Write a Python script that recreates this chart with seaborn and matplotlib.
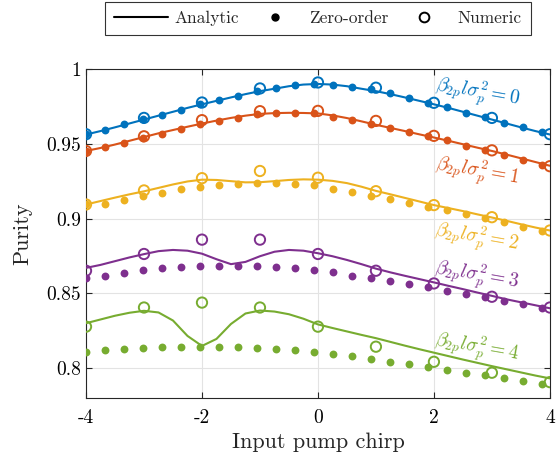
import numpy as np
import pandas as pd
import matplotlib
matplotlib.use("Agg")
import matplotlib.pyplot as plt
from matplotlib.lines import Line2D
import seaborn as sns

# ---------------- DATA ---------------- #
chirp_fine = np.arange(-4, 4.01, 0.25)      # analytic curve grid
chirp_zero = np.linspace(-4, 3.86, 25)      # zero-order points
chirp_num = np.arange(-4, 5, 1)             # numeric points

levels = ["0", "1", "2", "3", "4"]

analytic_0 = [0.9562, 0.9585, 0.961, 0.9636, 0.9662, 0.9688, 0.9714, 0.974, 0.9764, 0.9787, 0.981,
              0.9832, 0.9852, 0.9868, 0.9885, 0.9896, 0.990, 0.9896, 0.9885, 0.9868, 0.9852, 0.9832,
              0.981, 0.9787, 0.9764, 0.974, 0.9714, 0.9688, 0.9662, 0.9636, 0.961, 0.9585, 0.9562]
analytic_1 = [0.9452, 0.9472, 0.9495, 0.952, 0.9545, 0.957, 0.9592, 0.9614, 0.9635, 0.9655, 0.9673,
              0.9688, 0.970, 0.9705, 0.9707, 0.9706, 0.9703, 0.969, 0.9672, 0.965, 0.9627, 0.9606,
              0.9585, 0.9563, 0.9542, 0.952, 0.9497, 0.9474, 0.9452, 0.9428, 0.9403, 0.9378, 0.9353]
analytic_2 = [0.9094, 0.9117, 0.914, 0.9162, 0.9182, 0.9205, 0.9228, 0.9248, 0.926, 0.9258, 0.925,
              0.9242, 0.9243, 0.925, 0.9258, 0.9262, 0.926, 0.9252, 0.9237, 0.9213, 0.9185, 0.9162,
              0.9138, 0.9114, 0.909, 0.907, 0.905, 0.9028, 0.9007, 0.8985, 0.8962, 0.894, 0.892]
analytic_3 = [0.867, 0.869, 0.8715, 0.874, 0.8762, 0.8782, 0.879, 0.8785, 0.8765, 0.8728, 0.8695,
              0.871, 0.8748, 0.8778, 0.879, 0.8785, 0.8768, 0.8748, 0.8723, 0.8695, 0.8665, 0.864,
              0.8617, 0.8595, 0.8573, 0.855, 0.8528, 0.8505, 0.8483, 0.846, 0.844, 0.842, 0.840]
analytic_4 = [0.830, 0.8325, 0.835, 0.837, 0.8383, 0.8372, 0.8318, 0.8215, 0.8148, 0.8195, 0.8295,
              0.8365, 0.8385, 0.8378, 0.836, 0.833, 0.8292, 0.8268, 0.8245, 0.8222, 0.820, 0.8175,
              0.815, 0.8126, 0.8103, 0.808, 0.8057, 0.8035, 0.8013, 0.7992, 0.7971, 0.795, 0.7931]

zero_0 = [0.9564, 0.9595, 0.9629, 0.9664, 0.9693, 0.9727, 0.9763, 0.979, 0.982, 0.985, 0.987, 0.989, 0.990,
          0.9895, 0.988, 0.9863, 0.9837, 0.9803, 0.9776, 0.9743, 0.9709, 0.9676, 0.9642, 0.9609, 0.9577]
zero_1 = [0.9452, 0.9477, 0.9508, 0.9539, 0.9568, 0.9597, 0.9631, 0.9653, 0.9673, 0.9696, 0.9703, 0.9705, 0.9703,
          0.9682, 0.9662, 0.9631, 0.9606, 0.9579, 0.955, 0.9523, 0.9488, 0.9461, 0.9427, 0.9394, 0.936]
zero_2 = [0.9094, 0.9099, 0.9126, 0.915, 0.9172, 0.9195, 0.921, 0.9226, 0.9233, 0.9237, 0.9237, 0.9228, 0.9222,
          0.920, 0.9177, 0.9154, 0.9132, 0.9105, 0.908, 0.9058, 0.9031, 0.9005, 0.8975, 0.8942, 0.892]
zero_3 = [0.8602, 0.8617, 0.8638, 0.8653, 0.8667, 0.8676, 0.8683, 0.8685, 0.8685, 0.8683, 0.8673, 0.8667, 0.8656,
          0.864, 0.8617, 0.8602, 0.8579, 0.8562, 0.8539, 0.8517, 0.8495, 0.8472, 0.845, 0.8428, 0.8405]
zero_4 = [0.8107, 0.8121, 0.813, 0.8137, 0.8141, 0.8143, 0.8143, 0.8143, 0.8141, 0.8137, 0.813, 0.8121, 0.8107,
          0.8092, 0.8078, 0.806, 0.8042, 0.8025, 0.8009, 0.7987, 0.7969, 0.7951, 0.7935, 0.7913, 0.7895]

numeric_0 = [0.9564, 0.9673, 0.9776, 0.987, 0.991, 0.9875, 0.9774, 0.9673, 0.9564]
numeric_1 = [0.9452, 0.955, 0.9658, 0.9718, 0.972, 0.9653, 0.9553, 0.9456, 0.935]
numeric_2 = [0.9094, 0.9188, 0.927, 0.9318, 0.9273, 0.9183, 0.909, 0.9009, 0.892]
numeric_3 = [0.8651, 0.8763, 0.8859, 0.8859, 0.8763, 0.8651, 0.8566, 0.8477, 0.8405]
numeric_4 = [0.8277, 0.8405, 0.8438, 0.8405, 0.8277, 0.8143, 0.8042, 0.7969, 0.7906]

analytic = [analytic_0, analytic_1, analytic_2, analytic_3, analytic_4]
zero_order = [zero_0, zero_1, zero_2, zero_3, zero_4]
numeric = [numeric_0, numeric_1, numeric_2, numeric_3, numeric_4]

colors = ["#0072BD", "#D95319", "#EDB120", "#7E2F8E", "#77AC30"]

# label anchor (data coords)
label_x = [2.76, 2.74, 2.74, 2.74, 2.74]
label_y = [0.9839, 0.9315, 0.8872, 0.8617, 0.8134]

# ---------------- STYLE ---------------- #
sns.set_style("ticks")
plt.rcParams["font.family"] = "serif"
plt.rcParams["font.serif"] = ["cmr10", "DejaVu Serif"]
plt.rcParams["mathtext.fontset"] = "cm"
plt.rcParams["axes.unicode_minus"] = False
plt.rcParams["axes.formatter.use_mathtext"] = True

fig = plt.figure(figsize=(5.56, 4.61), dpi=100)
ax = fig.add_axes([0.1547, 0.1367, 0.8343, 0.7136])

# ---------------- PLOT ---------------- #
for i, lev in enumerate(levels):
    c = colors[i]
    sns.lineplot(x=chirp_fine, y=analytic[i], ax=ax, color=c, linewidth=1.5, zorder=3)
    sns.scatterplot(x=chirp_zero, y=zero_order[i], ax=ax, color=c, s=32, linewidth=0, zorder=4)
    sns.scatterplot(x=chirp_num, y=numeric[i], ax=ax, color=c, facecolors="none",
                    edgecolor=c, s=55, linewidth=1.4, zorder=5)
    ax.text(label_x[i], label_y[i], r"$\beta_{2p}l\sigma_p^2 = %s$" % lev, color=c,
            fontsize=14, rotation=-10, ha="center", va="center", rotation_mode="anchor")

ax.set_xlim(-4, 4)
ax.set_ylim(0.78, 1.0)
xt = [-4, -2, 0, 2, 4]
yt = [0.8, 0.85, 0.9, 0.95, 1.0]
ax.set_xticks(xt)
ax.set_xticklabels([f"{v:g}" for v in xt])
ax.set_yticks(yt)
ax.set_yticklabels([f"{v:g}" for v in yt])
ax.tick_params(direction="in", top=True, right=True, length=4, width=0.8,
               labelsize=14, colors="#262626", labelcolor="black")
ax.tick_params(axis="x", pad=8)
ax.grid(True, color="#e3e3e3", linewidth=0.8)
for s in ax.spines.values():
    s.set_visible(True)
    s.set_color("#262626")
    s.set_linewidth(0.8)

ax.set_xlabel("Input pump chirp", fontsize=16, labelpad=4)
ax.set_ylabel("Purity", fontsize=16, labelpad=10)

handles = [
    Line2D([], [], color="black", linewidth=1.5),
    Line2D([], [], color="black", linestyle="none", marker="o", markersize=5),
    Line2D([], [], color="black", linestyle="none", marker="o", markersize=7,
           markerfacecolor="none", markeredgewidth=1.4),
]
leg = fig.legend(handles, ["Analytic", "Zero-order", "Numeric"], loc="upper center",
                 bbox_to_anchor=(0.572, 0.995), ncol=3, fontsize=12.5, frameon=True,
                 fancybox=False, edgecolor="black", handlelength=3.1, handletextpad=0.4,
                 columnspacing=0.5, borderaxespad=0, borderpad=0.5)
leg.get_frame().set_linewidth(0.8)

plt.savefig("out.png", dpi=100)
